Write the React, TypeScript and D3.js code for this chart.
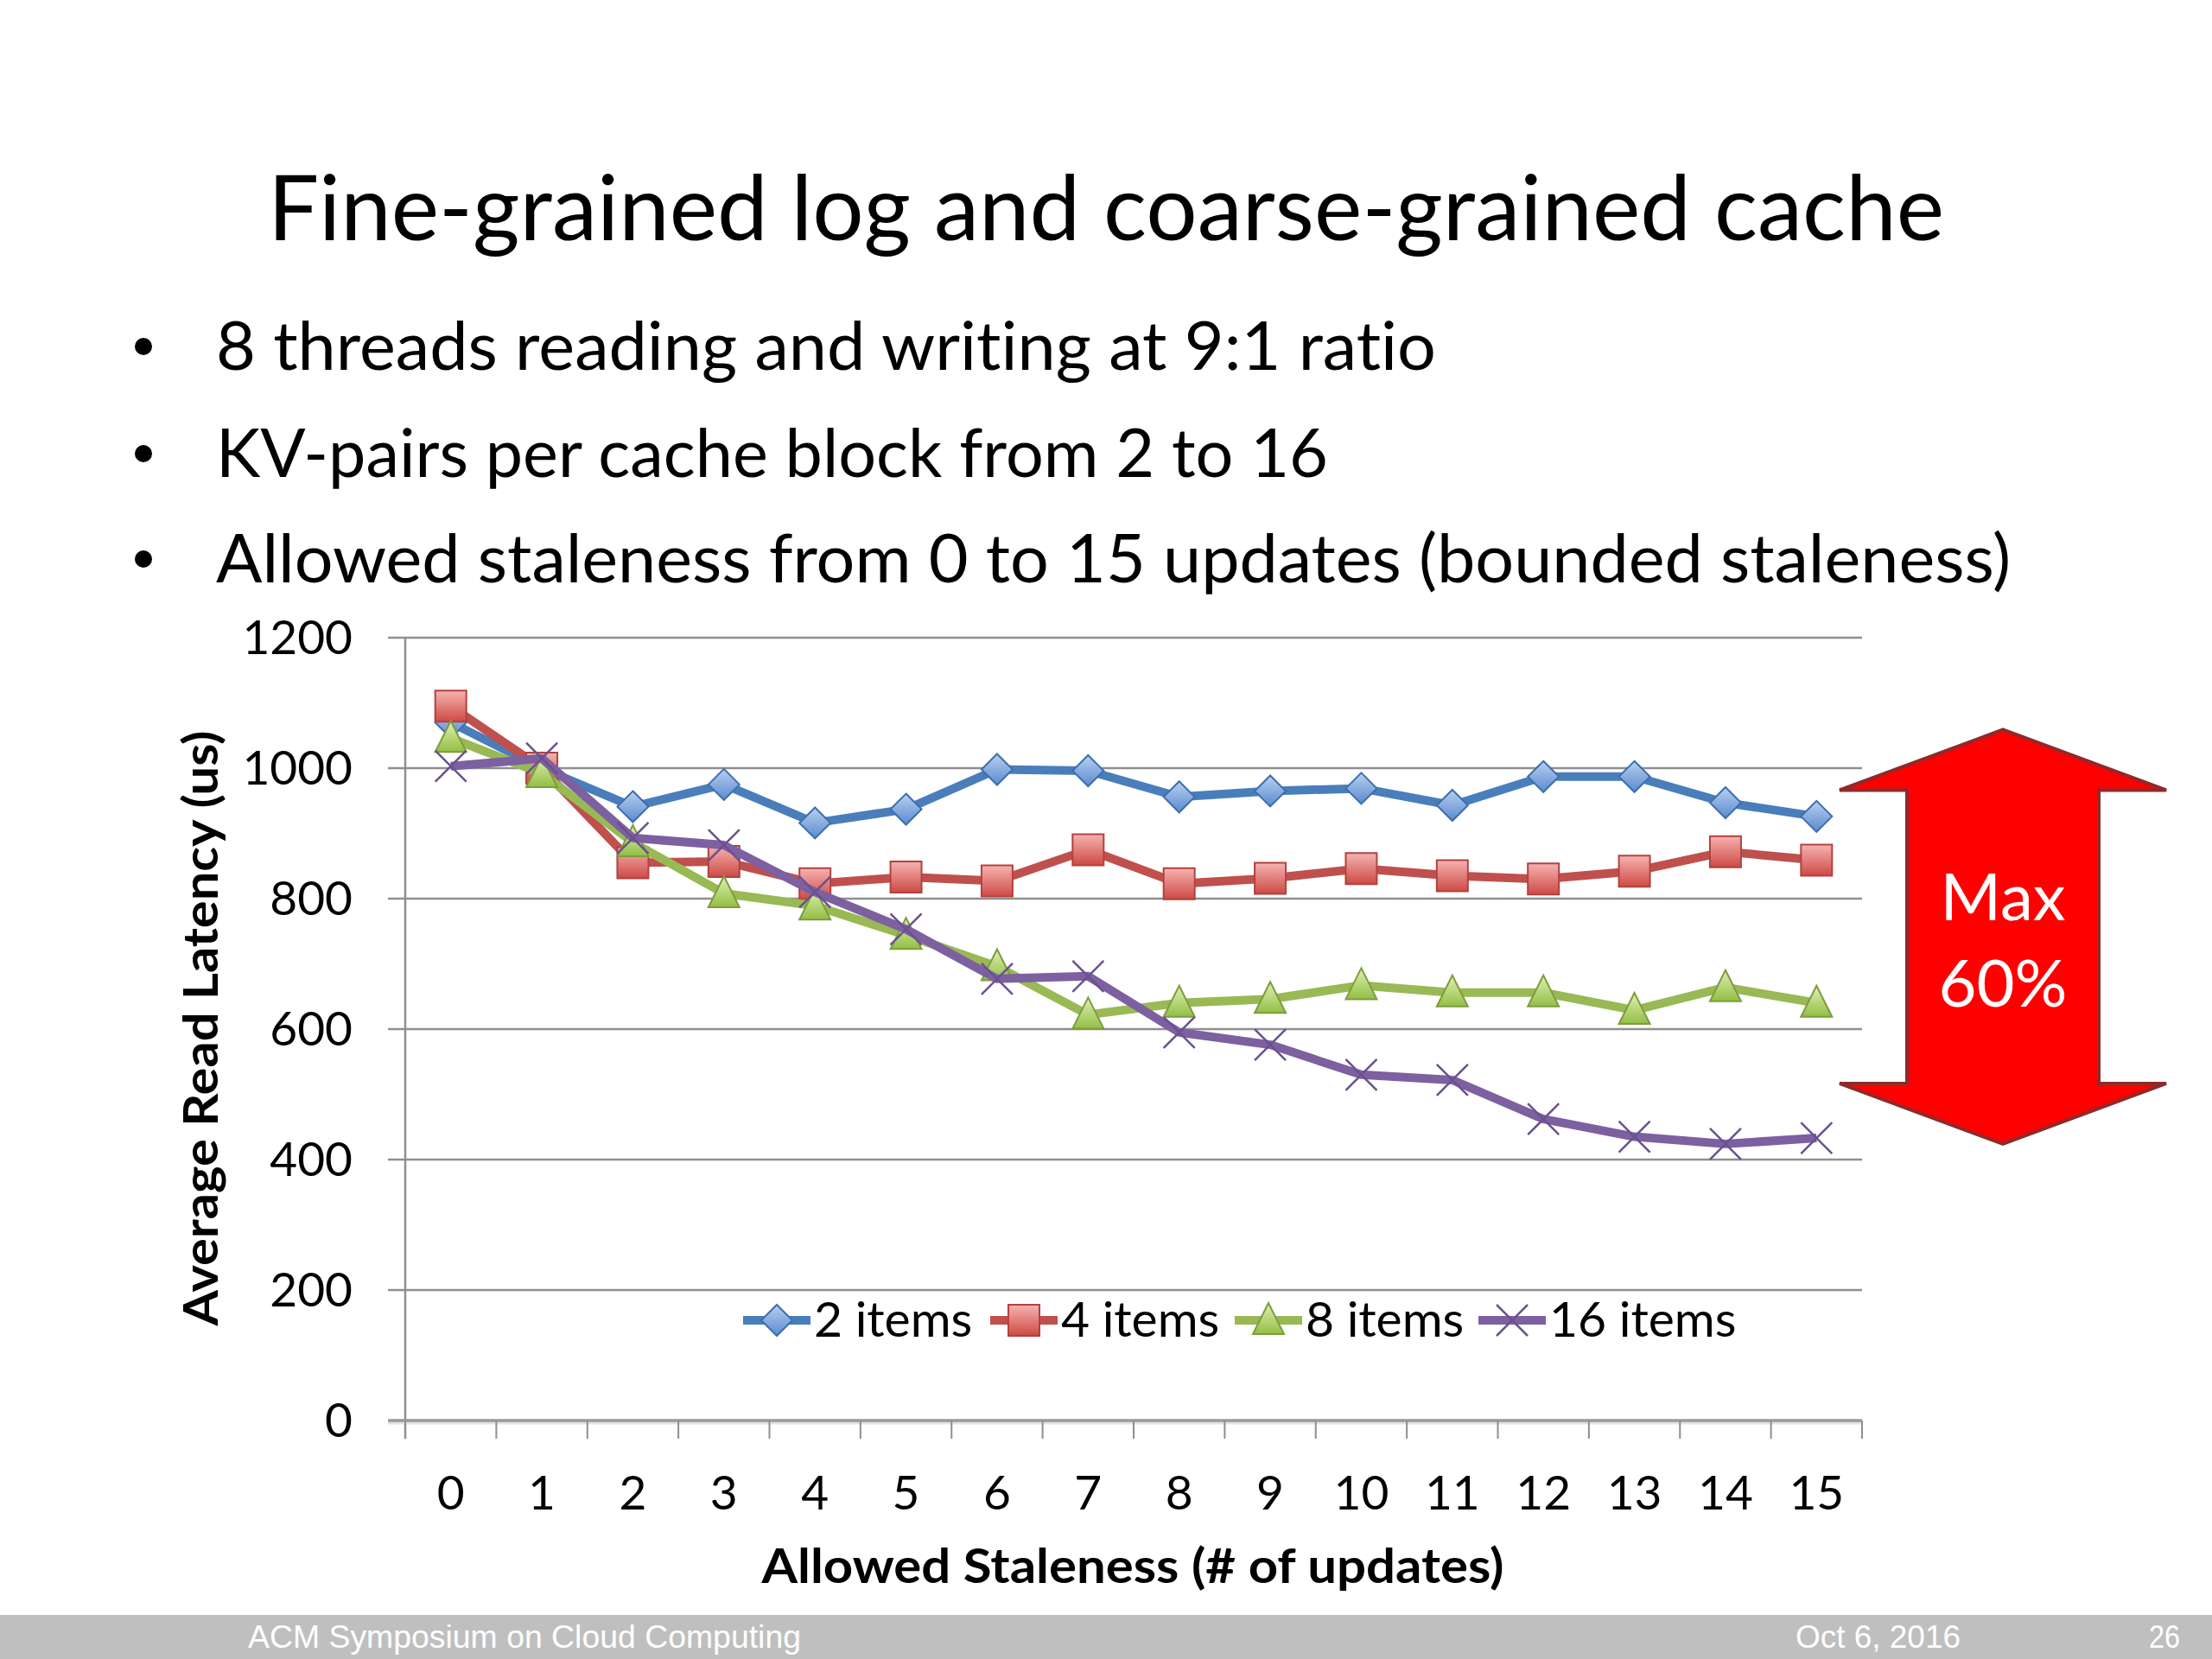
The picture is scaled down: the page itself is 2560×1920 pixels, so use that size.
import React, { useEffect, useRef } from 'react';
import * as d3 from 'd3';

// chart values
const staleness = ['0', '1', '2', '3', '4', '5', '6', '7', '8', '9', '10', '11', '12', '13', '14', '15'];
const items2 = [1070, 1000, 941, 975, 916, 937, 998, 996, 956, 965, 969, 943, 987, 987, 947, 926];
const items4 = [1095, 1000, 855, 857, 823, 833, 827, 875, 823, 831, 846, 835, 830, 842, 872, 859];
const items8 = [1046, 992, 886, 808, 789, 744, 696, 622, 640, 646, 667, 656, 656, 629, 664, 640];
const items16 = [1003, 1015, 893, 882, 810, 753, 677, 681, 595, 576, 530, 522, 462, 435, 424, 433];
const yTicks = [0, 200, 400, 600, 800, 1000, 1200];
const seriesNames = ['2 items', '4 items', '8 items', '16 items'];

const bullets = [
  '8 threads reading and writing at 9:1 ratio',
  'KV-pairs per cache block from 2 to 16',
  'Allowed staleness from 0 to 15 updates (bounded staleness)',
];

const FONT = 'Lato, "Open Sans", sans-serif';

const App: React.FC = () => {
  const svgRef = useRef<SVGSVGElement>(null);

  useEffect(() => {
    if (!svgRef.current) return;
    const svg = d3.select(svgRef.current);
    svg.selectAll('*').remove();

    const width = 2560;
    const height = 1920;
    const plot = { left: 469, right: 2155, top: 738, bottom: 1644 };

    svg.append('rect').attr('width', width).attr('height', height).attr('fill', '#fff');

    // gradients for the markers
    const defs = svg.append('defs');
    const grad = (id: string, c1: string, c2: string) => {
      const g = defs.append('linearGradient').attr('id', id)
        .attr('x1', 0).attr('y1', 0).attr('x2', 0).attr('y2', 1);
      g.append('stop').attr('offset', '0%').attr('stop-color', c1);
      g.append('stop').attr('offset', '100%').attr('stop-color', c2);
    };
    grad('gBlue', '#b9d0ef', '#5a8ad0');
    grad('gRed', '#f6b3b1', '#cd4a45');
    grad('gGreen', '#e0f0b4', '#92bf45');

    // title
    svg.append('text')
      .attr('x', 1280).attr('y', 278)
      .attr('text-anchor', 'middle')
      .attr('font-family', FONT)
      .attr('font-size', 104)
      .attr('textLength', 1940)
      .attr('lengthAdjust', 'spacingAndGlyphs')
      .attr('fill', '#000')
      .text('Fine-grained log and coarse-grained cache');

    // bullets
    const bulletY = [428, 552, 674];
    const bulletW = [1412, 1287, 2077];
    bullets.forEach((b, i) => {
      svg.append('circle')
        .attr('cx', 166).attr('cy', bulletY[i] - 27)
        .attr('r', 10)
        .attr('fill', '#000');
      svg.append('text')
        .attr('x', 250).attr('y', bulletY[i])
        .attr('font-family', FONT)
        .attr('font-size', 77)
        .style('font-variant-ligatures', 'none')
        .attr('textLength', bulletW[i])
        .attr('lengthAdjust', 'spacingAndGlyphs')
        .text(b);
    });

    // scales
    const xScale = d3.scaleBand<string>()
      .domain(staleness)
      .range([plot.left, plot.right]);
    const yScale = d3.scaleLinear()
      .domain([0, 1200])
      .range([plot.bottom, plot.top]);
    const cx = (d: string) => (xScale(d) as number) + xScale.bandwidth() / 2;

    // grid lines + y ticks
    svg.append('g')
      .selectAll('line')
      .data(yTicks.filter(t => t > 0))
      .enter()
      .append('line')
      .attr('x1', plot.left - 20).attr('x2', plot.right)
      .attr('y1', d => yScale(d)).attr('y2', d => yScale(d))
      .attr('stroke', '#8f8f8f')
      .attr('stroke-width', 2.5);

    svg.append('g')
      .selectAll('text')
      .data(yTicks)
      .enter()
      .append('text')
      .attr('x', 408)
      .attr('y', d => yScale(d) + 19)
      .attr('text-anchor', 'end')
      .attr('font-family', FONT)
      .attr('font-size', 55)
      .text(d => d);

    // y axis line
    svg.append('line')
      .attr('x1', plot.left).attr('x2', plot.left)
      .attr('y1', plot.top).attr('y2', plot.bottom + 21)
      .attr('stroke', '#8f8f8f').attr('stroke-width', 2.5);

    // x axis line
    svg.append('line')
      .attr('x1', plot.left - 20).attr('x2', plot.right)
      .attr('y1', plot.bottom + 2).attr('y2', plot.bottom + 2)
      .attr('stroke', '#e2e2e2').attr('stroke-width', 5);
    svg.append('line')
      .attr('x1', plot.left - 20).attr('x2', plot.right)
      .attr('y1', plot.bottom).attr('y2', plot.bottom)
      .attr('stroke', '#9a9a9a').attr('stroke-width', 3.5);

    // x ticks at band boundaries
    const boundaries = staleness.map(d => xScale(d) as number).concat([plot.right]);
    svg.append('g')
      .selectAll('line')
      .data(boundaries)
      .enter()
      .append('line')
      .attr('x1', d => d).attr('x2', d => d)
      .attr('y1', plot.bottom).attr('y2', plot.bottom + 21)
      .attr('stroke', '#8f8f8f').attr('stroke-width', 2);

    svg.append('g')
      .selectAll('text')
      .data(staleness)
      .enter()
      .append('text')
      .attr('x', d => cx(d))
      .attr('y', 1747)
      .attr('text-anchor', 'middle')
      .attr('font-family', FONT)
      .attr('font-size', 55)
      .text(d => d);

    // axis titles
    svg.append('text')
      .attr('x', 1311).attr('y', 1832)
      .attr('text-anchor', 'middle')
      .attr('font-family', FONT)
      .attr('font-weight', 'bold')
      .attr('font-size', 56)
      .attr('textLength', 859)
      .attr('lengthAdjust', 'spacingAndGlyphs')
      .text('Allowed Staleness (# of updates)');

    svg.append('text')
      .attr('transform', 'translate(252,1190) rotate(-90)')
      .attr('text-anchor', 'middle')
      .attr('font-family', FONT)
      .attr('font-weight', 'bold')
      .attr('font-size', 56)
      .attr('textLength', 689)
      .attr('lengthAdjust', 'spacingAndGlyphs')
      .text('Average Read Latency (us)');

    // marker shapes
    const m = 18;
    const diamond = `M0,${-m}L${m},0L0,${m}L${-m},0Z`;
    const square = `M${-m},${-m}H${m}V${m}H${-m}Z`;
    const triangle = `M0,${-m - 2}L${m},${m - 2}L${-m},${m - 2}Z`;
    const cross = `M${-m},${-m}L${m},${m}M${m},${-m}L${-m},${m}`;

    const series = [
      { values: items2, line: '#4a7ebb', path: diamond, fill: 'url(#gBlue)', stroke: '#3c6eae', sw: 2 },
      { values: items4, line: '#c0504d', path: square, fill: 'url(#gRed)', stroke: '#b2423f', sw: 2 },
      { values: items8, line: '#98b954', path: triangle, fill: 'url(#gGreen)', stroke: '#7e9c3e', sw: 2 },
      { values: items16, line: '#7d60a0', path: cross, fill: 'none', stroke: '#6a5090', sw: 2.5 },
    ];

    const line = d3.line<number>()
      .x((_, i) => cx(staleness[i]))
      .y(d => yScale(d));

    series.forEach(s => {
      svg.append('path')
        .datum(s.values)
        .attr('fill', 'none')
        .attr('stroke', s.line)
        .attr('stroke-width', 10)
        .attr('stroke-linejoin', 'round')
        .attr('d', line);

      svg.append('g')
        .selectAll('path')
        .data(s.values)
        .enter()
        .append('path')
        .attr('transform', (d, i) => `translate(${cx(staleness[i])},${yScale(d)})`)
        .attr('d', s.path)
        .attr('fill', s.fill)
        .attr('stroke', s.stroke)
        .attr('stroke-width', s.sw);
    });

    // legend
    const legendX = [860, 1146, 1429, 1711];
    const legendY = 1528;
    series.forEach((s, i) => {
      const g = svg.append('g').attr('transform', `translate(${legendX[i]},${legendY})`);
      g.append('line')
        .attr('x1', 0).attr('x2', 78)
        .attr('stroke', s.line).attr('stroke-width', 10);
      g.append('path')
        .attr('transform', 'translate(39,0)')
        .attr('d', s.path)
        .attr('fill', s.fill)
        .attr('stroke', s.stroke)
        .attr('stroke-width', s.sw);
      g.append('text')
        .attr('x', 82).attr('y', 19)
        .attr('font-family', FONT)
        .attr('font-size', 57)
        .text(seriesNames[i]);
    });

    // red double arrow annotation
    const ax = 2318;
    const top = yScale(1059);
    const bot = yScale(424);
    const headW = 189;
    const shaftW = 111;
    const headH = 70;
    const arrow = [
      [ax, top], [ax + headW, top + headH], [ax + shaftW, top + headH],
      [ax + shaftW, bot - headH], [ax + headW, bot - headH], [ax, bot],
      [ax - headW, bot - headH], [ax - shaftW, bot - headH],
      [ax - shaftW, top + headH], [ax - headW, top + headH],
    ];
    svg.append('path')
      .attr('d', d3.line()(arrow as [number, number][]) + 'Z')
      .attr('fill', '#ff0000')
      .attr('stroke', '#8e2a2a')
      .attr('stroke-width', 4)
      .attr('stroke-linejoin', 'miter');

    ['Max', '60%'].forEach((t, i) => {
      svg.append('text')
        .attr('x', ax).attr('y', 1065 + i * 100)
        .attr('text-anchor', 'middle')
        .attr('font-family', FONT)
        .attr('font-size', 76)
        .attr('fill', '#fff')
        .text(t);
    });

    // footer band
    svg.append('rect')
      .attr('x', 0).attr('y', 1869)
      .attr('width', width).attr('height', 51)
      .attr('fill', '#bfbfbf');
    const footer = [
      { t: 'ACM Symposium on Cloud Computing', x: 287, w: 640 },
      { t: 'Oct 6, 2016', x: 2078, w: 191 },
      { t: '26', x: 2487, w: 36 },
    ];
    footer.forEach(f => {
      svg.append('text')
        .attr('x', f.x).attr('y', 1907)
        .attr('font-family', '"Liberation Sans", Arial, sans-serif')
        .attr('font-size', 36)
        .attr('fill', '#fff')
        .attr('textLength', f.w)
        .attr('lengthAdjust', 'spacingAndGlyphs')
        .text(f.t);
    });
  }, []);

  return (
    <svg
      ref={svgRef}
      width={2560}
      height={1920}
      style={{ position: 'absolute', left: 0, top: 0, display: 'block' }}
    />
  );
};

export default App;
